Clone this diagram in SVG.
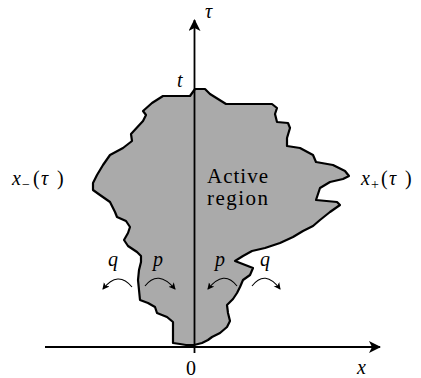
<svg xmlns="http://www.w3.org/2000/svg" width="421" height="378" viewBox="0 0 421 378">
<style>
text{font-family:'Liberation Serif','DejaVu Serif',serif;font-size:20px;fill:#000}
.m{font-style:italic}
.ax{stroke:#000;stroke-width:1.8;fill:none}
.arc{stroke:#000;stroke-width:1.1;fill:none}
</style>
<defs>
<marker id="ah" markerWidth="14" markerHeight="12" refX="11" refY="6" orient="auto" markerUnits="userSpaceOnUse">
<path d="M0,0 L12,6 L0,12 L3,6 Z" fill="#000"/>
</marker>
<marker id="sh" markerWidth="8" markerHeight="8" refX="6" refY="4" orient="auto" markerUnits="userSpaceOnUse">
<path d="M0,0.5 L7,4 L0,7.5 L1.8,4 Z" fill="#000"/>
</marker>
</defs>
<g id="region">
<path d="M195,89 L205,89 L210,94 L226,104 L272,104 L277,108 L275,114 L277,122 L288,123 L290,128 L287,138 L287,146 L300,148 L313,155 L316,162 L333,165 L345,171 L349,176 L343,179 L330,182 L320,188 L316,200 L337,202 L340,205 L330,212 L320,220 L313,226 L303,231 L293,237 L280,243 L265,248 L252,251 L243,256 L235,261 L253,268 L250,275 L243,280 L240,287 L237,293 L233,299 L227,305 L228,313 L230,321 L227,327 L220,333 L212,337 L208,340 L202,343 L194,345 L186,345 L180,344 L173,343 L173,333 L173,322 L167,317 L157,313 L155,307 L148,303 L140,300 L139,290 L138,280 L139,270 L141,262 L141,256 L137,252 L128,246 L124,240 L128,233 L130,227 L126,221 L117,217 L115,212 L110,202 L100,195 L93,190 L93,183 L97,175 L103,165 L110,155 L123,148 L132,141 L131,134 L143,121 L146,115 L143,111 L152,103 L163,96 L190,96 Z" fill="#aaaaaa" stroke="#000" stroke-width="2.2" stroke-linejoin="round"/>
<text style="font-size:21px" x="207" y="183" textLength="61" lengthAdjust="spacing">Active</text>
<text style="font-size:21px" x="207" y="205" textLength="61" lengthAdjust="spacing">region</text>
</g>
<g id="axes">
<line class="ax" x1="194.5" y1="353" x2="194.5" y2="20" marker-end="url(#ah)"/>
<line class="ax" x1="45" y1="347" x2="380" y2="347" marker-end="url(#ah)"/>
</g>
<g id="connectors">
<path class="arc" d="M132,287 Q118,270 103,289" marker-end="url(#sh)"/>
<path class="arc" d="M145,286 Q158,269 175,289" marker-end="url(#sh)"/>
<path class="arc" d="M237,286 Q224,269 208,289" marker-end="url(#sh)"/>
<path class="arc" d="M252,286 Q265,269 280,289" marker-end="url(#sh)"/>
</g>
<g id="labels">
<text class="m" x="205" y="18">τ</text>
<text class="m" x="177" y="87">t</text>
<text class="m" x="108" y="266">q</text>
<text class="m" x="153" y="266">p</text>
<text class="m" x="215" y="266">p</text>
<text class="m" x="260" y="266">q</text>
<text x="186" y="375">0</text>
<text class="m" x="357" y="374">x</text>
<text y="185"><tspan class="m" x="12">x</tspan><tspan x="22" y="189" font-size="14">−</tspan><tspan x="33" y="185">(</tspan><tspan class="m" x="41">τ</tspan><tspan x="57">)</tspan></text>
<text y="185"><tspan class="m" x="361">x</tspan><tspan x="371" y="189" font-size="14">+</tspan><tspan x="381" y="185">(</tspan><tspan class="m" x="389">τ</tspan><tspan x="405">)</tspan></text>
</g>
</svg>
